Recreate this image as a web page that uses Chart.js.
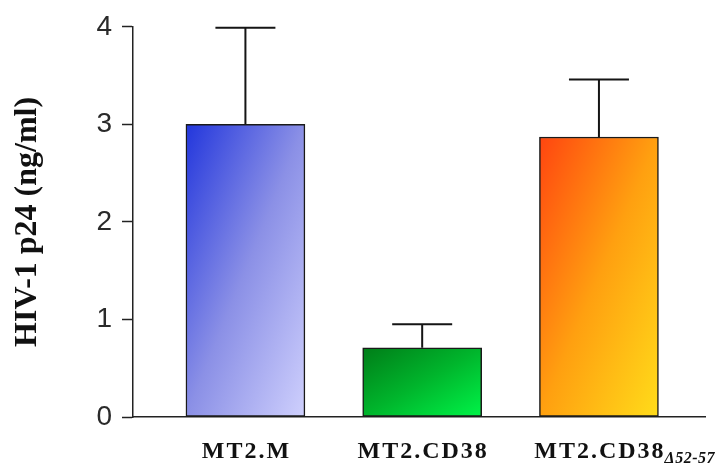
<!DOCTYPE html>
<html>
<head>
<meta charset="utf-8">
<script src="https://cdn.jsdelivr.net/npm/chart.js@4/dist/chart.umd.min.js"></script>
<style>
  html, body { margin: 0; padding: 0; background: #ffffff; }
  #wrap { width: 715px; height: 469px; position: relative; }
</style>
</head>
<body>
<div id="wrap"><canvas id="chart"></canvas></div>
<script>
// Cell lines and HIV-1 p24 output (ng/ml)
const categories = ['MT2.M', 'MT2.CD38', 'MT2.CD38'];
const categorySubscripts = ['', '', 'Δ52-57'];
const p24Mean = [3.00, 0.71, 2.87];
const p24ErrorUp = [0.99, 0.24, 0.59];
const yTicks = [0, 1, 2, 3, 4];

// Diagonal fill colours per bar: [top-left, middle, bottom-right]
const barStops = [
  ['#2236dc', '#8b90e6', '#cfd0fd'],
  ['#007d18', '#00b52c', '#00f448'],
  ['#ff4510', '#ffa010', '#ffdc1a']
];

const barData = categories.map((c, i) => ({ x: i + 1, y: p24Mean[i] }));
const BAR_WIDTH = 119;

function diagonalFill(context) {
  const chart = context.chart;
  const i = context.dataIndex;
  const xs = chart.scales.x, ys = chart.scales.y;
  if (!chart.chartArea || !xs || !ys || i === undefined) return barStops[i || 0][1];
  const cx = xs.getPixelForValue(i + 1);
  const top = ys.getPixelForValue(p24Mean[i]);
  const base = ys.getPixelForValue(0);
  const w = BAR_WIDTH, h = base - top;
  const x0 = cx - w / 2, y0 = top;
  // iso-colour lines run through the top-right and bottom-left corners
  const k = 2 * w * h / (h * h + w * w);
  const g = chart.ctx.createLinearGradient(x0, y0, x0 + h * k, y0 + w * k);
  const s = barStops[i];
  g.addColorStop(0, s[0]);
  g.addColorStop(0.5, s[1]);
  g.addColorStop(1, s[2]);
  return g;
}

// Upper error whiskers with caps
const errorBars = {
  id: 'errorBars',
  afterDatasetsDraw(chart) {
    const ctx = chart.ctx;
    const ys = chart.scales.y;
    const meta = chart.getDatasetMeta(0);
    ctx.save();
    ctx.strokeStyle = '#151515';
    ctx.lineWidth = 2;
    meta.data.forEach((bar, i) => {
      const top = ys.getPixelForValue(p24Mean[i] + p24ErrorUp[i]);
      const base = ys.getPixelForValue(p24Mean[i]);
      ctx.beginPath();
      ctx.moveTo(bar.x, base);
      ctx.lineTo(bar.x, top);
      ctx.moveTo(bar.x - 30, top);
      ctx.lineTo(bar.x + 30, top);
      ctx.stroke();
    });
    ctx.restore();
  }
};

// Category names under each bar, with optional subscript
const categoryLabels = {
  id: 'categoryLabels',
  afterDraw(chart) {
    const ctx = chart.ctx;
    const xs = chart.scales.x;
    const yBase = chart.chartArea.bottom + 41;
    ctx.save();
    ctx.fillStyle = '#111';
    ctx.textBaseline = 'alphabetic';
    categories.forEach((name, i) => {
      const cx = xs.getPixelForValue(i + 1);
      ctx.font = 'bold 24px "Liberation Serif", "Times New Roman", serif';
      ctx.letterSpacing = '2px';
      const w = ctx.measureText(name).width - 2;
      const left = cx - w / 2;
      ctx.textAlign = 'left';
      ctx.fillText(name, left, yBase);
      if (categorySubscripts[i]) {
        ctx.font = 'italic bold 16px "Liberation Serif", "Times New Roman", serif';
        ctx.letterSpacing = '0.5px';
        ctx.fillText(categorySubscripts[i], left + w + 1, yBase + 5);
      }
    });
    ctx.restore();
  }
};

new Chart(document.getElementById('chart'), {
  type: 'bar',
  data: {
    datasets: [{
      data: barData,
      backgroundColor: diagonalFill,
      borderColor: '#1a1a1a',
      borderWidth: 1.5,
      borderSkipped: false,
      barThickness: BAR_WIDTH
    }]
  },
  options: {
    responsive: true,
    maintainAspectRatio: false,
    animation: false,
    layout: { padding: { top: 25, right: 10, bottom: 0, left: 0 } },
    plugins: { legend: { display: false }, tooltip: { enabled: false } },
    scales: {
      x: {
        type: 'linear',
        offset: false,
        min: 0.364,
        max: 3.6,
        ticks: { display: false },
        grid: { display: true, offset: false, drawOnChartArea: false, drawTicks: false },
        border: { display: true, color: '#222', width: 1.5 },
        afterFit(scale) { scale.height = 52; }
      },
      y: {
        min: 0,
        max: 4,
        afterBuildTicks(scale) { scale.ticks = yTicks.map(v => ({ value: v })); },
        ticks: {
          color: '#2a2a2a',
          font: { family: '"Liberation Sans", Arial, sans-serif', size: 28 },
          padding: 10
        },
        grid: { display: true, drawOnChartArea: false, drawTicks: true, tickLength: 11, tickColor: '#222', tickWidth: 1.5 },
        border: { display: true, color: '#222', width: 1.5 },
        title: {
          display: true,
          text: 'HIV-1 p24 (ng/ml)',
          color: '#111',
          font: { family: '"Liberation Serif", "Times New Roman", serif', size: 32, weight: 'bold' },
          padding: { top: 9, bottom: 0 }
        },
        afterFit(scale) { scale.width = 133; }
      }
    }
  },
  plugins: [errorBars, categoryLabels]
});
</script>
</body>
</html>
